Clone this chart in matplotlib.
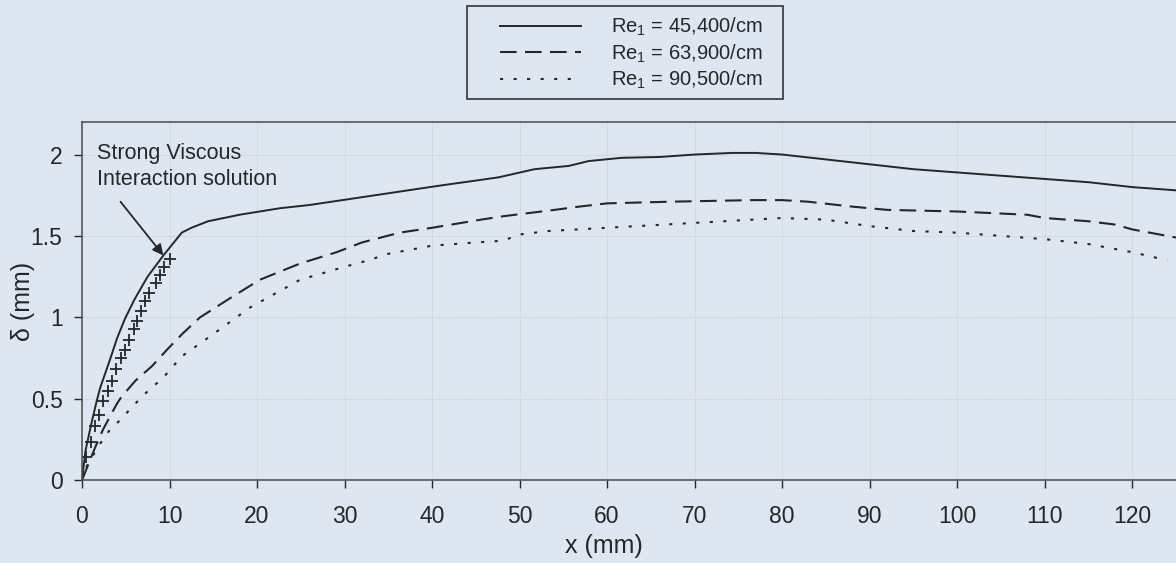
import matplotlib.pyplot as plt
from matplotlib.patches import Rectangle

plt.rcParams['font.family'] = ['Liberation Sans', 'DejaVu Sans']
plt.rcParams['mathtext.fontset'] = 'custom'
plt.rcParams['mathtext.rm'] = 'Liberation Sans'

BG = '#dee7f1'
INK = '#262626'

# Re1 = 45,400/cm
x1 = [0, 0.4, 1.0, 1.7, 2.1, 3.2, 4.0, 4.9, 6.0, 7.5, 9.3, 10.5, 11.4, 12.5, 14.4,
      18, 22.6, 26, 31, 36, 41, 45, 47.6, 51.7, 55.6, 57.9, 61.7, 66, 70, 74.3,
      77, 80, 85, 90, 95, 100, 105, 110, 115, 120, 125]
y1 = [0, 0.18, 0.33, 0.49, 0.57, 0.74, 0.87, 0.99, 1.11, 1.25, 1.38, 1.46, 1.52, 1.55, 1.59,
      1.63, 1.67, 1.69, 1.73, 1.77, 1.81, 1.84, 1.86, 1.91, 1.93, 1.96, 1.98, 1.985, 2.00, 2.01,
      2.01, 2.00, 1.97, 1.94, 1.91, 1.89, 1.87, 1.85, 1.83, 1.80, 1.78]

# Re1 = 63,900/cm
x2 = [0, 1.5, 2.4, 4.0, 4.5, 6.1, 8.0, 9.7, 11.5, 13.5, 17, 20.3, 24.9, 29.1, 32, 36.3,
      40, 45.6, 48, 54, 56.8, 60, 67, 76.6, 80, 83, 88, 92, 100, 108, 110, 115, 118, 120, 125]
y2 = [0, 0.20, 0.31, 0.47, 0.51, 0.61, 0.70, 0.80, 0.90, 1.00, 1.12, 1.23, 1.33, 1.40, 1.46, 1.52,
      1.55, 1.60, 1.62, 1.66, 1.68, 1.70, 1.71, 1.72, 1.72, 1.71, 1.68, 1.66, 1.65, 1.63, 1.61,
      1.59, 1.57, 1.54, 1.49]

# Re1 = 90,500/cm
x3 = [0, 0.5, 1.9, 3.2, 4.2, 6.1, 7.4, 9.3, 11.4, 14.3, 19.2, 24.9, 30, 32.7, 35, 40, 45,
      48, 50.2, 53.3, 60, 70, 76.6, 80, 85, 90, 95, 100, 105, 110, 115, 118, 120, 124]
y3 = [0, 0.08, 0.21, 0.31, 0.36, 0.47, 0.54, 0.63, 0.76, 0.87, 1.06, 1.23, 1.31, 1.35, 1.39,
      1.44, 1.46, 1.47, 1.51, 1.53, 1.55, 1.58, 1.60, 1.61, 1.60, 1.56, 1.53, 1.52, 1.50, 1.48,
      1.45, 1.42, 1.40, 1.35]

# strong viscous interaction solution (+ markers)
xs = [0.4, 1.0, 1.5, 1.9, 2.4, 3.0, 3.4, 3.9, 4.4, 4.9, 5.4, 5.9, 6.3, 6.7, 7.2, 7.7,
      8.4, 8.9, 9.4, 10.0]
ys = [0.14, 0.235, 0.33, 0.40, 0.485, 0.55, 0.61, 0.685, 0.75, 0.80, 0.86, 0.925, 0.98,
      1.04, 1.10, 1.15, 1.21, 1.26, 1.31, 1.36]

labels = ['Re$_1$ = 45,400/cm', 'Re$_1$ = 63,900/cm', 'Re$_1$ = 90,500/cm']

fig = plt.figure(figsize=(11.76, 5.63), dpi=100)
fig.patch.set_facecolor(BG)
ax = fig.add_axes([82 / 1176, 83 / 563, 1094 / 1176, 358 / 563])
ax.set_facecolor(BG)

l1, = ax.plot(x1, y1, color=INK, lw=1.4, ls='-')
l2, = ax.plot(x2, y2, color=INK, lw=1.5, ls=(0, (8, 4)))
l3, = ax.plot(x3, y3, color=INK, lw=1.5, ls=(0, (1.5, 5)))
ax.plot(xs, ys, ls='none', marker='+', ms=8, mew=1.3, color=INK)

ax.set_xlim(0, 125)
ax.set_ylim(0, 2.2)
ax.set_xticks(range(0, 121, 10))
ax.set_yticks([0, 0.5, 1, 1.5, 2])
ax.set_yticklabels(['0', '0.5', '1', '1.5', '2'])
ax.grid(True, color='#c3c9cf', lw=0.6, ls=(0, (1, 1)))
ax.set_axisbelow(True)
ax.tick_params(labelsize=16.5, colors=INK, length=6, width=1)
ax.tick_params(axis='x', pad=12)
ax.tick_params(axis='y', pad=8)
for s in ['left', 'bottom', 'top']:
    ax.spines[s].set_color('#4a4a4a')
    ax.spines[s].set_linewidth(1.1)
ax.spines['right'].set_visible(False)

ax.set_xlabel('x (mm)', fontsize=18, color=INK)
ax.xaxis.set_label_coords(0.477, -0.152)
ax.set_ylabel('δ (mm)', fontsize=18, color=INK)
ax.yaxis.set_label_coords(-0.043, 0.5)

ax.text(1.7, 2.07, 'Strong Viscous\nInteraction solution', fontsize=15.5, color=INK,
        ha='left', va='top', linespacing=1.3)
ax.annotate('', xy=(9.3, 1.38), xytext=(4.4, 1.71),
            arrowprops=dict(arrowstyle='-|>', color=INK, lw=1.3, mutation_scale=16,
                            shrinkA=0, shrinkB=0))

# legend box above the plot
fig.patches.append(Rectangle((467 / 1176, 1 - 99 / 563), 316 / 1176, 93 / 563,
                             transform=fig.transFigure, fill=False,
                             edgecolor='#333333', lw=1.2))
fig.legend([l1, l2, l3], labels, loc='upper left',
           bbox_to_anchor=(486 / 1176, 1 - 2 / 563), frameon=False,
           fontsize=14.5, handlelength=4.0, handletextpad=1.5, labelspacing=0.2,
           borderpad=0.2, labelcolor=INK)

fig.savefig('out.png', dpi=100, facecolor=BG)
